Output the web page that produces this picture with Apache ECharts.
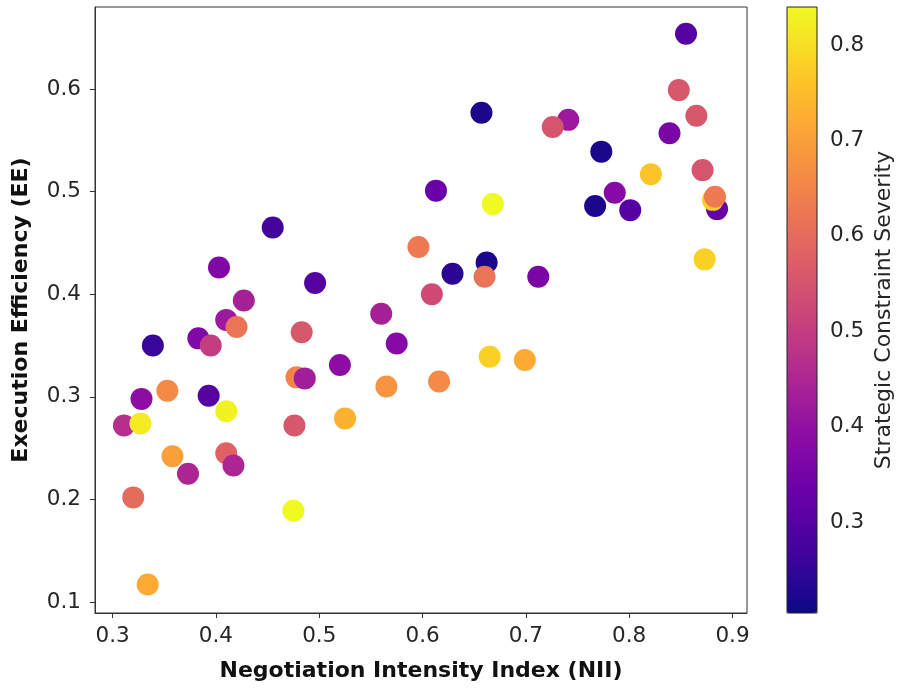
<!DOCTYPE html>
<html>
<head>
<meta charset="utf-8">
<script src="https://cdn.jsdelivr.net/npm/echarts@6/dist/echarts.min.js"></script>
<style>
  html, body { margin: 0; padding: 0; background: #fff; }
  #chart { width: 901px; height: 688px; }
</style>
</head>
<body>
<div id="chart"></div>
<script>
// values
const nii = [
  0.855, 0.848, 0.865, 0.839, 0.741, 0.726, 0.773, 0.821, 0.871, 0.786,
  0.767, 0.801, 0.885, 0.881, 0.883, 0.873, 0.657, 0.613, 0.668, 0.596,
  0.662, 0.629, 0.660, 0.712, 0.609, 0.665, 0.699, 0.616, 0.455, 0.403,
  0.496, 0.427, 0.560, 0.410, 0.420, 0.483, 0.575, 0.339, 0.383, 0.395,
  0.520, 0.478, 0.486, 0.565, 0.353, 0.328, 0.393, 0.410, 0.311, 0.327,
  0.476, 0.525, 0.358, 0.410, 0.417, 0.373, 0.320, 0.475, 0.334
];
const ee = [
  0.654, 0.599, 0.574, 0.557, 0.570, 0.563, 0.539, 0.517, 0.521, 0.499,
  0.486, 0.482, 0.483, 0.492, 0.495, 0.434, 0.577, 0.501, 0.488, 0.446,
  0.431, 0.420, 0.417, 0.417, 0.400, 0.339, 0.336, 0.315, 0.465, 0.426,
  0.411, 0.394, 0.381, 0.375, 0.368, 0.363, 0.352, 0.350, 0.357, 0.350,
  0.331, 0.319, 0.318, 0.310, 0.306, 0.298, 0.301, 0.286, 0.272, 0.274,
  0.272, 0.279, 0.242, 0.245, 0.233, 0.225, 0.202, 0.189, 0.117
];
const severity = [
  0.30, 0.56, 0.56, 0.36, 0.42, 0.55, 0.22, 0.76, 0.55, 0.38,
  0.22, 0.30, 0.32, 0.78, 0.63, 0.78, 0.22, 0.33, 0.84, 0.63,
  0.22, 0.24, 0.62, 0.36, 0.53, 0.78, 0.72, 0.66, 0.27, 0.37,
  0.30, 0.44, 0.44, 0.42, 0.62, 0.56, 0.38, 0.26, 0.37, 0.50,
  0.39, 0.65, 0.43, 0.68, 0.66, 0.39, 0.30, 0.83, 0.47, 0.82,
  0.56, 0.73, 0.70, 0.58, 0.45, 0.45, 0.60, 0.84, 0.72
];
const xTicks = [0.3, 0.4, 0.5, 0.6, 0.7, 0.8, 0.9];
const yTicks = [0.1, 0.2, 0.3, 0.4, 0.5, 0.6];
const cbTicks = [0.3, 0.4, 0.5, 0.6, 0.7, 0.8];
const plasma = ['#0d0887', '#41049d', '#6a00a8', '#8f0da4', '#b12a90', '#cc4778',
                '#e16462', '#f2844b', '#fca636', '#fcce25', '#f0f921'];

const points = nii.map((x, i) => [x, ee[i], severity[i]]);

const font = 'DejaVu Sans';
const ink = '#262626';
const tickSize = 21.5;
const nameSize = 22;

const chart = echarts.init(document.getElementById('chart'), null, { renderer: 'canvas' });

const option = {
  animation: false,
  textStyle: { fontFamily: font },
  grid: [
    { left: 95, right: 154, top: 7, bottom: 75, show: true, borderColor: '#333', borderWidth: 1 },
    // colorbar frame
    { left: 787, width: 30, top: 7, bottom: 75, show: true, borderColor: '#222', borderWidth: 1, z: 10 }
  ],
  xAxis: [
    {
      type: 'value', gridIndex: 0, min: 0.283, max: 0.914,
      name: 'Negotiation Intensity Index (NII)', nameLocation: 'middle', nameGap: 47,
      nameTextStyle: { fontFamily: font, fontSize: nameSize, fontWeight: 'bold', color: '#111' },
      axisLine: { show: true, lineStyle: { color: '#333', width: 1 } },
      axisTick: { show: true, length: 5, customValues: xTicks, lineStyle: { color: '#333' } },
      axisLabel: { customValues: xTicks, fontFamily: font, fontSize: tickSize, color: ink, margin: 12,
                   formatter: v => v.toFixed(1) },
      splitLine: { show: false }
    },
    { type: 'value', gridIndex: 1, min: 0, max: 1, show: false }
  ],
  yAxis: [
    {
      type: 'value', gridIndex: 0, min: 0.0893, max: 0.680,
      name: 'Execution Efficiency (EE)', nameLocation: 'middle', nameGap: 63, nameRotate: 90,
      nameTextStyle: { fontFamily: font, fontSize: nameSize, fontWeight: 'bold', color: '#111' },
      axisLine: { show: true, lineStyle: { color: '#333', width: 1 } },
      axisTick: { show: true, length: 5, customValues: yTicks, lineStyle: { color: '#333' } },
      axisLabel: { customValues: yTicks, fontFamily: font, fontSize: tickSize, color: ink, margin: 14,
                   formatter: v => v.toFixed(1) },
      splitLine: { show: false }
    },
    {
      type: 'value', gridIndex: 1, position: 'right', min: 0.2045, max: 0.840,
      name: 'Strategic Constraint Severity', nameLocation: 'middle', nameGap: 56, nameRotate: 90,
      nameTextStyle: { fontFamily: font, fontSize: nameSize, color: ink },
      axisLine: { show: false },
      axisTick: { show: true, length: 5, customValues: cbTicks, lineStyle: { color: '#333' } },
      axisLabel: { customValues: cbTicks, fontFamily: font, fontSize: tickSize, color: ink, margin: 13,
                   formatter: v => v.toFixed(1) },
      splitLine: { show: false }
    }
  ],
  visualMap: {
    type: 'continuous',
    seriesIndex: 0,
    dimension: 2,
    min: 0.2045,
    max: 0.840,
    calculable: false,
    hoverLink: false,
    orient: 'vertical',
    left: 787,
    top: 7,
    padding: 0,
    itemWidth: 30,
    itemHeight: 606,
    text: null,
    inRange: { color: plasma }
  },
  series: [
    {
      type: 'scatter',
      xAxisIndex: 0,
      yAxisIndex: 0,
      data: points,
      symbol: 'circle',
      symbolSize: 22,
      itemStyle: { opacity: 1 }
    }
  ]
};

chart.setOption(option);
</script>
</body>
</html>
